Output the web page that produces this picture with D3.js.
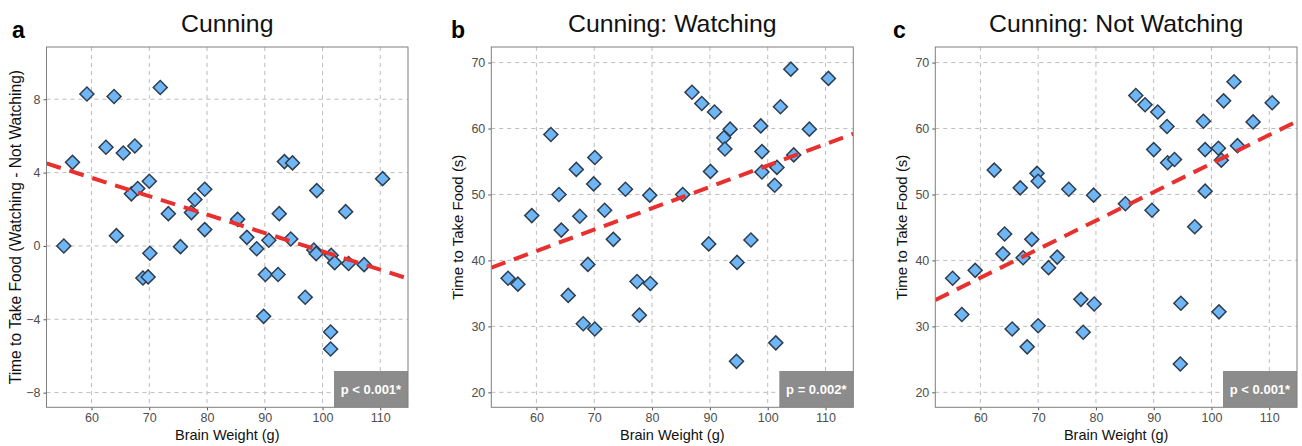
<!DOCTYPE html>
<html><head><meta charset="utf-8">
<script src="https://cdn.jsdelivr.net/npm/d3@7"></script>
<style>
body{margin:0;background:#fff;}
svg text{font-family:"Liberation Sans",Arial,Helvetica,sans-serif;}
</style></head>
<body><svg id="chart" width="1302" height="446"></svg>
<script>
// Panel a: Watching - Not Watching difference
const brainA = [55.2,56.7,59.2,62.5,63.9,64.3,65.5,66.9,67.5,68.0,68.9,69.8,70.0,70.1,71.9,73.3,75.4,77.3,77.9,79.6,79.6,85.3,86.9,88.6,89.8,90.1,90.7,92.3,92.5,93.4,94.8,94.5,97.0,98.5,99.0,98.9,101.5,101.4,101.4,102.1,104.0,104.5,107.2,110.4];
const diffA  = [0.0,4.56,8.29,5.38,8.15,0.56,5.07,2.84,5.45,3.13,-1.75,-1.69,3.53,-0.4,8.64,1.76,-0.04,1.82,2.53,3.09,0.89,1.45,0.47,-0.15,-3.84,-1.56,0.31,-1.56,1.76,4.6,4.53,0.38,-2.8,-0.22,3.02,-0.42,-0.51,-4.69,-5.62,-0.91,1.87,-0.96,-1.02,3.67];
// Panel b: Watching
const brainB = [55.1,56.8,59.2,62.5,63.9,64.3,65.5,66.9,67.5,68.1,68.9,69.9,70.1,70.1,71.8,73.3,75.4,77.4,77.8,79.6,79.7,85.3,86.9,88.6,89.8,90.1,90.8,92.4,92.6,93.5,94.6,94.7,97.1,98.8,99.0,99.0,101.2,101.4,101.6,102.2,104.0,104.5,107.2,110.5];
const timeB  = [37.3,36.4,46.8,59.1,50.0,44.6,34.7,53.8,46.7,30.4,39.4,51.6,55.6,29.6,47.6,43.2,50.8,36.8,31.7,49.9,36.5,50.0,65.5,63.8,42.5,53.5,62.5,58.6,56.9,59.9,24.7,39.7,43.1,60.4,56.5,53.4,51.4,27.5,54.1,63.3,69.0,56.0,59.9,67.6];
// Panel c: Not Watching
const brainC = [55.2,56.8,59.1,62.4,63.9,64.2,65.5,66.9,67.4,68.1,68.9,69.8,70.0,70.0,71.8,73.3,75.3,77.4,77.8,79.6,79.7,85.1,86.9,88.5,89.7,90.0,90.7,92.3,92.4,93.6,94.6,94.7,97.1,98.6,98.9,98.9,101.2,101.3,101.7,102.1,103.9,104.5,107.2,110.5];
const timeC  = [37.3,31.8,38.5,53.7,41.0,44.0,29.6,51.0,40.4,26.9,43.2,53.2,52.0,30.1,38.9,40.5,50.8,34.1,29.1,49.9,33.4,48.6,65.0,63.6,47.6,56.8,62.5,60.3,54.8,55.3,24.3,33.5,45.1,61.1,56.8,50.5,57.0,32.2,55.2,64.2,67.1,57.4,61.0,63.9];
// Fitted regression line endpoints (x, y)
const fitA = [[52.2,4.5],[114.8,-1.78]];
const fitB = [[52.2,38.9],[114.8,59.2]];
const fitC = [[52.2,34.0],[114.8,61.1]];
const xTicks = [60,70,80,90,100,110];
const yTicksA = [-8,-4,0,4,8];
const yTicksBC = [20,30,40,50,60,70];
const titles = ["Cunning","Cunning: Watching","Cunning: Not Watching"];
const letters = ["a","b","c"];
const pLabels = ["p < 0.001*","p = 0.002*","p < 0.001*"];
const yTitles = ["Time to Take Food (Watching - Not Watching)","Time to Take Food (s)","Time to Take Food (s)"];

const svg = d3.select("#chart");
const panels = [
  {left:46.5, right:408, xs:brainA, ys:diffA, fit:fitA, yDom:[-8.8,10.85], yTicks:yTicksA, yTitleX:16, letterX:12},
  {left:491.3, right:853.3, xs:brainB, ys:timeB, fit:fitB, yDom:[17.73,72.36], yTicks:yTicksBC, yTitleX:458, letterX:451},
  {left:935.3, right:1297, xs:brainC, ys:timeC, fit:fitC, yDom:[17.73,72.36], yTicks:yTicksBC, yTitleX:902, letterX:893}
];
const plotTop = 47, plotBottom = 407.3;

panels.forEach((p,i)=>{
  const x = d3.scaleLinear().domain([52.2,114.8]).range([p.left,p.right]);
  const y = d3.scaleLinear().domain(p.yDom).range([plotBottom,plotTop]);
  const g = svg.append("g");
  const clipId = "clip"+i;
  svg.append("clipPath").attr("id",clipId).append("rect")
    .attr("x",p.left).attr("y",plotTop).attr("width",p.right-p.left).attr("height",plotBottom-plotTop);

  // grid
  g.selectAll(".vg").data(xTicks).join("line")
    .attr("x1",d=>x(d)).attr("x2",d=>x(d)).attr("y1",plotTop).attr("y2",plotBottom)
    .attr("stroke","#bdbdbd").attr("stroke-width",1).attr("stroke-dasharray","4,4");
  g.selectAll(".hg").data(p.yTicks).join("line")
    .attr("x1",p.left).attr("x2",p.right).attr("y1",d=>y(d)).attr("y2",d=>y(d))
    .attr("stroke","#bdbdbd").attr("stroke-width",1).attr("stroke-dasharray","4,4");

  // axes
  const xa = g.append("g").attr("transform",`translate(0,${plotBottom})`)
    .call(d3.axisBottom(x).tickValues(xTicks).tickSize(3).tickPadding(3));
  const ya = g.append("g").attr("transform",`translate(${p.left},0)`)
    .call(d3.axisLeft(y).tickValues(p.yTicks).tickSize(3).tickPadding(3));
  [xa,ya].forEach(a=>{
    a.select(".domain").remove();
    a.selectAll(".tick line").attr("stroke","#555");
    a.selectAll(".tick text").attr("fill","#4d4d4d").style("font-size","12.5px")
      .style("font-family","'Liberation Sans',Arial,sans-serif");
  });

  // points
  const diamond = d3.symbol().type(d3.symbolSquare).size(98);
  g.append("g").attr("clip-path",`url(#${clipId})`)
    .selectAll("path").data(p.xs.map((v,k)=>[v,p.ys[k]])).join("path")
    .attr("d",diamond)
    .attr("transform",d=>`translate(${x(d[0])},${y(d[1])}) rotate(45)`)
    .attr("fill","#6eb6f6").attr("stroke","#2f3d4c").attr("stroke-width",1.5);

  // regression line
  g.append("path").attr("clip-path",`url(#${clipId})`)
    .datum(p.fit)
    .attr("d",d3.line().x(d=>x(d[0])).y(d=>y(d[1])))
    .attr("fill","none").attr("stroke","#e8302e").attr("stroke-width",4)
    .attr("stroke-dasharray","15,9");

  // p box
  const bw = 74, bh = 36.3;
  g.append("rect").attr("x",p.right-bw).attr("y",plotBottom-bh).attr("width",bw).attr("height",bh)
    .attr("fill","#8c8c8c");
  g.append("text").attr("x",p.right-bw/2).attr("y",plotBottom-bh/2+4.5)
    .attr("text-anchor","middle").attr("fill","#fff").style("font-size","13px")
    .style("font-weight","bold").text(pLabels[i]);

  // border
  g.append("rect").attr("x",p.left).attr("y",plotTop).attr("width",p.right-p.left).attr("height",plotBottom-plotTop)
    .attr("fill","none").attr("stroke","#7f7f7f").attr("stroke-width",1);

  // titles
  g.append("text").attr("x",(p.left+p.right)/2).attr("y",32).attr("text-anchor","middle")
    .style("font-size","24.8px").attr("fill","#111").text(titles[i]);
  g.append("text").attr("x",p.letterX).attr("y",38).style("font-size","23px")
    .style("font-weight","bold").attr("fill","#000").text(letters[i]);
  g.append("text").attr("x",(p.left+p.right)/2).attr("y",440).attr("text-anchor","middle")
    .style("font-size","14.5px").attr("fill","#111").text("Brain Weight (g)");
  g.append("text").attr("transform",`translate(${p.yTitleX},${(plotTop+plotBottom)/2}) rotate(-90)`)
    .attr("dy","0.35em").attr("text-anchor","middle")
    .style("font-size", i===0 ? "15.6px" : "15px").attr("fill","#111").text(yTitles[i]);
});
</script></body></html>
